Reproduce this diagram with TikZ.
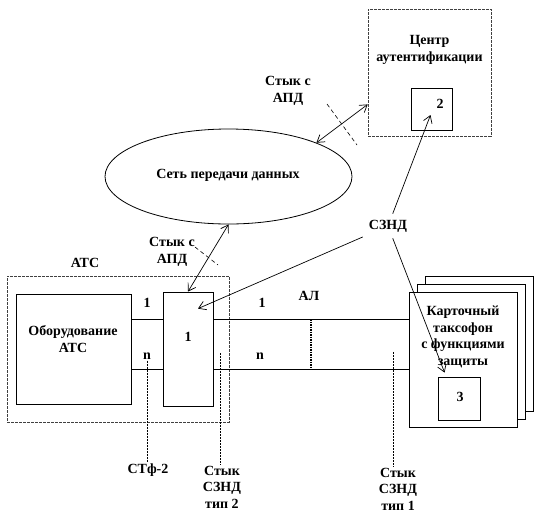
\documentclass[tikz,border=0pt]{standalone}
\usepackage{fontspec}
\setmainfont{Liberation Serif}
\usetikzlibrary{arrows.meta,shapes.geometric,calc}
\tikzstyle{box}=[draw,line width=0.8pt,inner sep=0pt]
\tikzstyle{frame}=[draw,black!75,line width=0.6pt,dash pattern=on 3pt off 1pt,inner sep=0pt]
\tikzstyle{page}=[box,fill=white,minimum width=108pt,minimum height=135pt]
\tikzstyle{lbl}=[font=\bfseries\fontsize{14}{16.5}\selectfont,align=center,inner sep=1pt]
\tikzstyle{hit}=[->,>={Straight Barb[length=7pt,width=9pt]},line width=0.7pt]
\tikzstyle{link}=[<->,>={Straight Barb[length=7pt,width=9pt]},line width=0.7pt]
\tikzstyle{tick}=[dash pattern=on 4pt off 3pt,line width=0.6pt]
\tikzstyle{cut}=[dash pattern=on 2pt off 1pt,line width=0.6pt]
\tikzstyle{al}=[dash pattern=on 1.5pt off 1pt,line width=1.8pt]
\begin{document}
\begin{tikzpicture}[x=1pt,y=-1pt]
\useasboundingbox (0,0) rectangle (548,520);
% authentication centre
\node[frame,minimum width=123pt,minimum height=127pt] (centre) at (429.5,72.5) {};
\node[lbl] (centre text) at (429.5,50) {Центр\\аутентификации};
\node[box,minimum width=41pt,minimum height=42pt] (key2) at (431.5,109) {};
\node[lbl] (key2 text) at (440,104) {2};

% data network
\node[draw,ellipse,line width=0.8pt,minimum width=247pt,minimum height=95pt,inner sep=0pt] (net) at (228.5,176.5) {};
\node[lbl] (net text) at (228,175) {Сеть передачи данных};
\node[lbl] (apd up) at (288,91) {Стык с\\АПД};
\node[lbl] (apd low) at (172,252) {Стык с\\АПД};

% exchange
\node[frame,minimum width=222pt,minimum height=146pt] (ats) at (118,349) {};
\node[lbl] (ats text) at (85,263) {АТС};
\node[box,minimum width=115pt,minimum height=110pt] (equip) at (73.5,349) {};
\node[lbl] (equip text) at (73,339) {Оборудование\\АТС};
\node[box,minimum width=50pt,minimum height=114pt] (box1) at (188,349) {};
\node[lbl] (box1 text) at (188,337) {1};

% payphone
\node[page] (page3) at (479,344) {};
\node[page] (page2) at (471,352) {};
\node[page] (page1) at (463,360) {};
\node[lbl] (phone text) at (463,337) {Карточный\\таксофон\\с функциями\\защиты};
\node[box,minimum width=42pt,minimum height=43pt] (key3) at (459,398.5) {};
\node[lbl] (key3 text) at (460,397) {3};

% lines
\coordinate (row1) at (0,319);
\coordinate (rown) at (0,369);
\draw[line width=0.8pt] (equip.east |- row1) -- (box1.west |- row1);
\draw[line width=0.8pt] (equip.east |- rown) -- (box1.west |- rown);
\draw[line width=0.8pt] (box1.east |- row1) -- (page1.west |- row1);
\draw[line width=0.8pt] (box1.east |- rown) -- (page1.west |- rown);
\node[lbl] (l1 left) at (147,303) {1};
\node[lbl] (ln left) at (147,356) {n};
\node[lbl] (l1 right) at (262,303) {1};
\node[lbl] (ln right) at (260,356) {n};
\node[lbl] (al text) at (309,296) {АЛ};
\draw[al] (311,319) -- (311,369);

% interfaces
\node[lbl] (stf2) at (148,470) {СТф-2};
\node[lbl,anchor=north] (type2) at (222,465) {Стык\\СЗНД\\тип 2};
\node[lbl,anchor=north] (type1) at (398,467) {Стык\\СЗНД\\тип 1};
\coordinate (cut2) at (220,353);
\coordinate (cut1) at (393,352);
\draw[cut] (ln left) -- (ln left |- stf2.north);
\draw[cut] (cut2) -- (cut2 |- type2.north);
\draw[cut] (cut1) -- (cut1 |- type1.north);

% links
\draw[link] (net.21) -- ($(centre.west)!0.5!(centre.south west)$);
\draw[tick] (327,104) -- (357,145);
\draw[link] (net.south) -- (box1.north);
\draw[tick] (195,247) -- (218,265);
\node[lbl,inner sep=6pt] (sznd) at (388,226) {СЗНД};
\draw[hit] (sznd) -- ($(key2.center)+(-1,6)$);
\draw[hit] (sznd) -- ($(box1.north)+(10,17)$);
\draw[hit] (sznd) -- ($(key3.north west)+(7,-4)$);
\end{tikzpicture}
\end{document}
